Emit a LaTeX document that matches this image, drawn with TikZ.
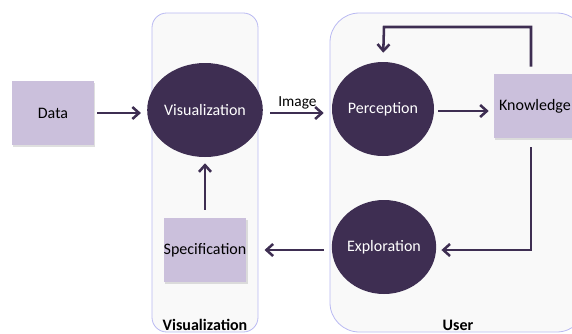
\documentclass[tikz,border=0pt]{standalone}
\usepackage{fontspec}
\setmainfont{Carlito}
\usetikzlibrary{arrows.meta,shapes.geometric,shadows,backgrounds}
\definecolor{ink}{HTML}{3E2E52}
\definecolor{lilac}{HTML}{CBC0DC}
\definecolor{frame}{HTML}{B9B9F2}
\definecolor{pane}{HTML}{F9F9F9}
\tikzset{box/.style={fill=lilac,minimum width=61.5pt,minimum height=48pt,inner sep=0pt,font=\fontsize{12}{14}\selectfont,drop shadow={shadow xshift=1pt,shadow yshift=-1.2pt,fill=black!25,opacity=.5}},stage/.style={ellipse,fill=ink,text=white,minimum width=76.5pt,minimum height=70.5pt,inner sep=0pt,font=\fontsize{12}{14}\selectfont},panel/.style={draw=frame,fill=pane,line width=.6pt,inner sep=0pt},edge/.style={-{Straight Barb[length=5pt,width=9pt,line width=1.9pt]},line width=1.9pt,draw=ink},panecap/.style={font=\fontsize{12}{14}\selectfont\bfseries,anchor=south,inner sep=1pt}}
\begin{document}
\begin{tikzpicture}[x=0.75pt,y=-0.75pt]
\useasboundingbox (0,0) rectangle (572,333);
\node[box] (data) at (53,113) {Data};\node[stage] (vis) at (205,110) {Visualization};\node[box] (spec) at (205,250) {Specification};
\node[stage] (perc) at (383,109) {Perception};\node[box] (know) at (535,106) {Knowledge};\node[stage] (expl) at (384,247) {Exploration};
\coordinate (loop) at (384,27);
\draw[edge,shorten <=2.25pt,shorten >=4.5pt] (data.east) -- (vis.west |- data.east);\draw[edge,shorten <=6pt,shorten >=4.5pt] (spec) -- (vis);
\draw[edge,shorten <=5.25pt,shorten >=6pt] (vis.east |- data.east) -- node[above,font=\fontsize{11.5}{13}\selectfont,inner sep=2pt]{Image} (perc.west |- data.east);
\draw[edge,shorten <=3pt,shorten >=3.75pt] (perc.east |- 0,111) -- (know.west |- 0,111);
\draw[edge,shorten <=5.25pt,shorten >=6.75pt] (know.north -| 531,0) |- (loop) -- (perc.north);
\draw[edge,shorten <=6.75pt,shorten >=3.75pt] (know.south -| 531,0) |- (expl.east |- 0,250);
\draw[edge,shorten <=6pt,shorten >=13.5pt] (expl.west |- 0,250) -- (spec.east |- 0,250);
\begin{scope}[on background layer]\node[panel,rounded corners=11pt,minimum width=79.5pt,minimum height=239.25pt,label={[panecap]south:Visualization}] (vispane) at (205,172.5) {};\node[panel,rounded corners=22pt,minimum width=192pt,minimum height=239.25pt,label={[panecap]south:User}] (userpane) at (458,172.5) {};\end{scope}
\end{tikzpicture}
\end{document}
